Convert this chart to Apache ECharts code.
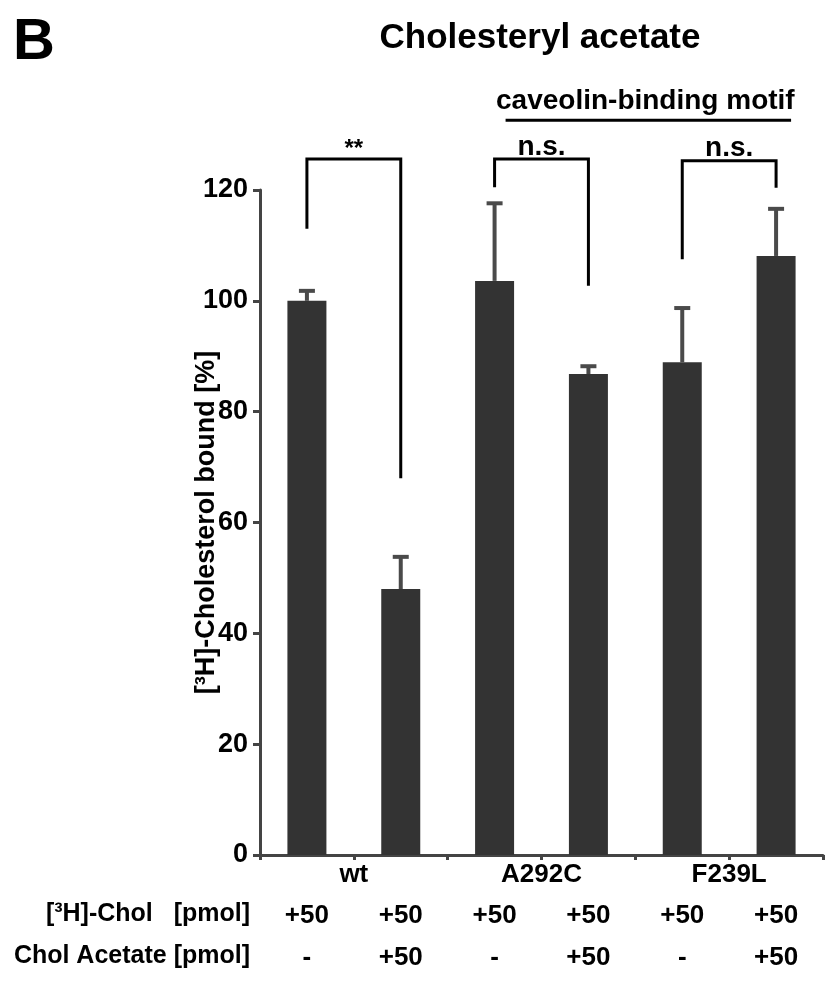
<!DOCTYPE html>
<html>
<head>
<meta charset="utf-8">
<script src="https://cdn.jsdelivr.net/npm/echarts@6/dist/echarts.min.js"></script>
<style>
html, body { margin: 0; padding: 0; background: #fff; }
#chart { width: 826px; height: 983px; }
</style>
</head>
<body>
<div id="chart"></div>
<script>
const groups = ['wt', 'A292C', 'F239L'];
const cholRow = ['+50', '+50', '+50', '+50', '+50', '+50'];
const acetateRow = ['-', '+50', '-', '+50', '-', '+50'];
const bound = [100, 48.0, 103.6, 86.8, 88.9, 108.1];
const boundErr = [101.8, 53.8, 117.6, 88.2, 98.7, 116.6];
// brackets: left bar, right bar, left leg end, right leg end, top
const brackets = [
    [0, 1, 113.0, 68.0, 125.6],
    [2, 3, 120.5, 102.7, 125.6],
    [4, 5, 107.5, 120.4, 125.3]
];
const bracketLabels = ['**', 'n.s.', 'n.s.'];
const motif = [[2, 5, 132.6]];
const motifLabel = 'caveolin-binding motif';

const FONT = "'Liberation Sans', Arial, Helvetica, sans-serif";
const categories = cholRow.map((c, i) => groups[Math.floor(i / 2)] + ' ' + acetateRow[i]);

const chart = echarts.init(document.getElementById('chart'), null, { renderer: 'canvas' });

const option = {
    backgroundColor: '#ffffff',
    animation: false,
    grid: { left: 260, right: 3, top: 190, bottom: 128, containLabel: false },
    graphic: [
        {
            type: 'text', left: 13, top: 14,
            style: { text: 'B', font: 'bold 58px ' + FONT, fill: '#000' }
        },
        {
            type: 'text', x: 540, y: 38,
            style: { text: 'Cholesteryl acetate', font: 'bold 35px ' + FONT, fill: '#000',
                textAlign: 'center', align: 'center', textVerticalAlign: 'middle', verticalAlign: 'middle' }
        },
        {
            type: 'text', right: 576, top: 902,
            style: { text: '[³H]-Chol   [pmol]', font: 'bold 25px ' + FONT, fill: '#000' }
        },
        {
            type: 'text', right: 576, top: 944,
            style: { text: 'Chol Acetate [pmol]', font: 'bold 25px ' + FONT, fill: '#000' }
        }
    ],
    xAxis: [
        {
            type: 'category',
            data: categories,
            position: 'bottom',
            boundaryGap: true,
            axisLine: { lineStyle: { color: '#444', width: 3 } },
            axisTick: { show: true, length: 5, lineStyle: { color: '#444', width: 3 } },
            axisLabel: {
                interval: 0,
                margin: 40,
                color: '#000',
                fontFamily: FONT,
                fontWeight: 'bold',
                fontSize: 26,
                lineHeight: 42,
                formatter: (v, i) => cholRow[i] + '\n' + acetateRow[i]
            }
        },
        {
            type: 'value',
            position: 'bottom',
            min: 0, max: 6, interval: 1,
            axisLine: { show: false },
            axisTick: { show: false },
            splitLine: { show: false },
            axisLabel: {
                margin: 7,
                color: '#000',
                fontFamily: FONT,
                fontWeight: 'bold',
                fontSize: 26,
                showMinLabel: false,
                showMaxLabel: false,
                formatter: v => (v % 2 === 1 ? groups[(v - 1) / 2] : '')
            }
        }
    ],
    yAxis: {
        type: 'value',
        min: 0, max: 120, interval: 20,
        name: '[³H]-Cholesterol bound [%]',
        nameLocation: 'middle',
        nameGap: 40,
        nameRotate: 90,
        nameMoveOverlap: false,
        nameTextStyle: { color: '#000', fontFamily: FONT, fontWeight: 'bold', fontSize: 27 },
        axisLine: { show: true, lineStyle: { color: '#444', width: 3 } },
        axisTick: { show: true, length: 7, lineStyle: { color: '#444', width: 3 } },
        splitLine: { show: false },
        axisLabel: { margin: 12, color: '#000', fontFamily: FONT, fontWeight: 'bold', fontSize: 27 }
    },
    series: [
        {
            type: 'bar',
            data: bound,
            barWidth: 39,
            itemStyle: { color: '#333333' },
            z: 2
        },
        {
            // upper error bars
            type: 'custom',
            data: bound.map((v, i) => [i, v, boundErr[i]]),
            encode: { x: 0, y: [1, 2] },
            z: 3,
            renderItem: function (params, api) {
                const base = api.coord([api.value(0), api.value(1)]);
                const top = api.coord([api.value(0), api.value(2)]);
                const style = { stroke: '#4a4a4a', lineWidth: 4 };
                return {
                    type: 'group',
                    children: [
                        { type: 'line', shape: { x1: base[0], y1: base[1], x2: top[0], y2: top[1] }, style: style },
                        { type: 'line', shape: { x1: top[0] - 8, y1: top[1], x2: top[0] + 8, y2: top[1] }, style: style }
                    ]
                };
            }
        },
        {
            // significance brackets
            type: 'custom',
            data: brackets,
            encode: { x: [0, 1], y: [2, 3, 4] },
            clip: false,
            z: 4,
            renderItem: function (params, api) {
                const l0 = api.coord([api.value(0), api.value(2)]);
                const lt = api.coord([api.value(0), api.value(4)]);
                const r0 = api.coord([api.value(1), api.value(3)]);
                const rt = api.coord([api.value(1), api.value(4)]);
                const label = bracketLabels[params.dataIndex];
                const star = label === '**';
                return {
                    type: 'group',
                    children: [
                        {
                            type: 'polyline',
                            shape: { points: [l0, lt, rt, r0] },
                            style: { stroke: '#000', lineWidth: 3, fill: null }
                        },
                        {
                            type: 'text',
                            style: {
                                text: label,
                                x: (lt[0] + rt[0]) / 2,
                                y: lt[1] - (star ? 10 : 12),
                                font: 'bold ' + (star ? 24 : 28) + 'px ' + FONT,
                                fill: '#000',
                                textAlign: 'center', align: 'center',
                                textVerticalAlign: 'middle', verticalAlign: 'middle'
                            }
                        }
                    ]
                };
            }
        },
        {
            // caveolin-binding motif line
            type: 'custom',
            data: motif,
            encode: { x: [0, 1], y: 2 },
            clip: false,
            z: 4,
            renderItem: function (params, api) {
                const a = api.coord([api.value(0), api.value(2)]);
                const b = api.coord([api.value(1), api.value(2)]);
                return {
                    type: 'group',
                    children: [
                        {
                            type: 'line',
                            shape: { x1: a[0] + 11, y1: a[1], x2: b[0] + 15, y2: b[1] },
                            style: { stroke: '#000', lineWidth: 3 }
                        },
                        {
                            type: 'text',
                            style: {
                                text: motifLabel,
                                x: (a[0] + b[0]) / 2 + 10,
                                y: a[1] - 19,
                                font: 'bold 28px ' + FONT,
                                fill: '#000',
                                textAlign: 'center', align: 'center',
                                textVerticalAlign: 'middle', verticalAlign: 'middle'
                            }
                        }
                    ]
                };
            }
        }
    ]
};

chart.setOption(option);
</script>
</body>
</html>
